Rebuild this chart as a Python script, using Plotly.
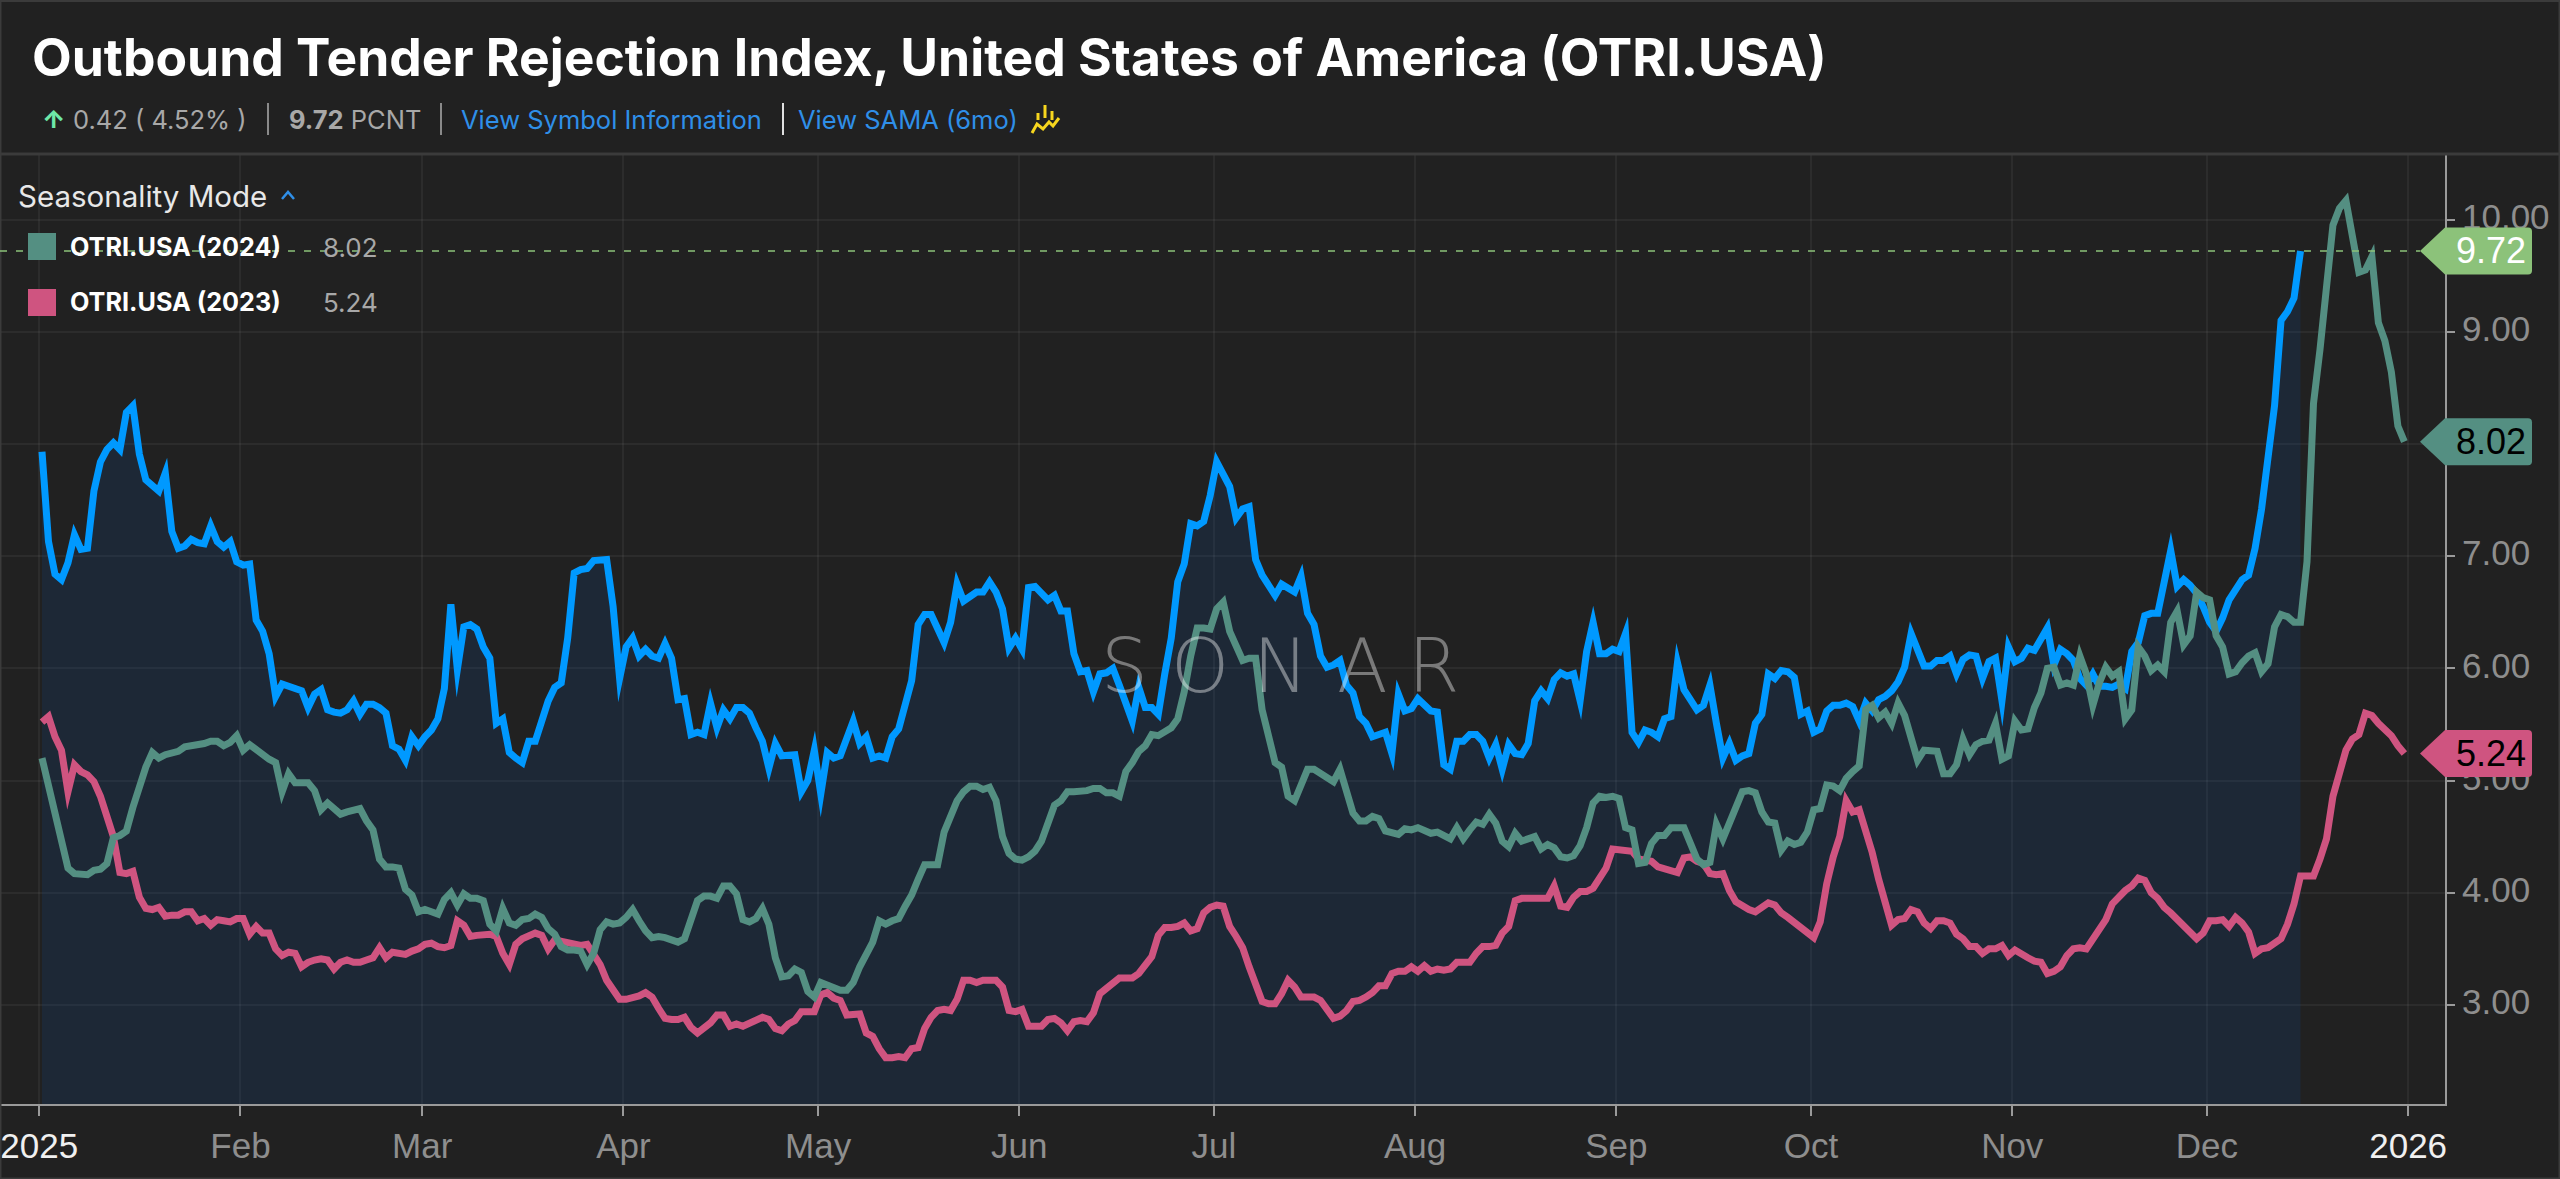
import pandas as pd
import plotly.graph_objects as go

# daily readings, one value per day starting 1 Jan
otri_2025 = [
    7.93, 7.13, 6.84, 6.79, 6.94, 7.19, 7.06, 7.07, 7.58, 7.84, 7.95, 8.01, 7.95, 8.28, 8.34, 7.91, 7.68, 7.63, 7.58, 7.74,
    7.22, 7.07, 7.09, 7.15, 7.12, 7.11, 7.27, 7.13, 7.08, 7.13, 6.95, 6.92, 6.93, 6.43, 6.33, 6.13, 5.75, 5.86, 5.84, 5.82,
    5.80, 5.65, 5.77, 5.81, 5.63, 5.61, 5.60, 5.63, 5.71, 5.59, 5.68, 5.68, 5.65, 5.60, 5.31, 5.28, 5.18, 5.39, 5.31, 5.39,
    5.45, 5.55, 5.82, 6.57, 5.99, 6.37, 6.39, 6.35, 6.19, 6.09, 5.51, 5.55, 5.25, 5.20, 5.16, 5.35, 5.35, 5.53, 5.71, 5.83,
    5.87, 6.27, 6.85, 6.88, 6.89, 6.96, 6.96, 6.97, 6.55, 5.91, 6.19, 6.27, 6.11, 6.17, 6.11, 6.09, 6.22, 6.09, 5.72, 5.73,
    5.41, 5.43, 5.41, 5.69, 5.47, 5.63, 5.55, 5.65, 5.65, 5.60, 5.47, 5.35, 5.11, 5.33, 5.22, 5.22, 5.23, 4.90, 5.00, 5.27,
    4.88, 5.25, 5.20, 5.22, 5.39, 5.53, 5.33, 5.39, 5.20, 5.22, 5.20, 5.39, 5.46, 5.65, 5.89, 6.39, 6.48, 6.48, 6.36, 6.23,
    6.41, 6.75, 6.60, 6.65, 6.68, 6.68, 6.77, 6.68, 6.53, 6.18, 6.27, 6.17, 6.72, 6.73, 6.67, 6.61, 6.65, 6.51, 6.51, 6.13,
    5.97, 5.98, 5.79, 5.95, 5.96, 6.00, 5.85, 5.71, 5.53, 5.83, 5.65, 5.65, 5.59, 5.95, 6.27, 6.77, 6.93, 7.29, 7.27, 7.31,
    7.54, 7.84, 7.72, 7.62, 7.34, 7.42, 7.44, 6.97, 6.83, 6.75, 6.65, 6.75, 6.72, 6.68, 6.82, 6.49, 6.39, 6.11, 6.01, 6.03,
    6.07, 5.85, 5.78, 5.57, 5.51, 5.39, 5.41, 5.43, 5.24, 5.77, 5.62, 5.64, 5.73, 5.68, 5.62, 5.61, 5.14, 5.10, 5.35, 5.35,
    5.41, 5.41, 5.35, 5.20, 5.32, 5.10, 5.32, 5.24, 5.23, 5.33, 5.71, 5.80, 5.73, 5.90, 5.96, 5.93, 5.95, 5.71, 6.15, 6.41,
    6.13, 6.13, 6.17, 6.15, 6.31, 5.43, 5.34, 5.45, 5.43, 5.39, 5.55, 5.57, 6.05, 5.81, 5.71, 5.63, 5.67, 5.85, 5.51, 5.20,
    5.33, 5.18, 5.22, 5.24, 5.51, 5.59, 5.95, 5.91, 5.98, 5.97, 5.92, 5.59, 5.62, 5.43, 5.46, 5.62, 5.67, 5.67, 5.69, 5.66,
    5.53, 5.69, 5.62, 5.72, 5.75, 5.80, 5.88, 6.01, 6.31, 6.15, 6.02, 6.02, 6.07, 6.07, 6.11, 5.95, 6.08, 6.12, 6.11, 5.91,
    6.06, 6.09, 5.71, 6.19, 6.06, 6.09, 6.18, 6.16, 6.27, 6.36, 6.03, 6.17, 6.13, 6.07, 5.91, 5.85, 5.95, 5.84, 5.84, 5.83,
    5.86, 5.82, 6.15, 6.23, 6.47, 6.49, 6.49, 6.75, 7.05, 6.73, 6.79, 6.74, 6.67, 6.55, 6.41, 6.33, 6.45, 6.61, 6.71, 6.79,
    6.83, 7.07, 7.42, 7.90, 8.34, 9.10, 9.18, 9.30, 9.72,
]
otri_2024 = [
    5.20, 4.94, 4.70, 4.48, 4.22, 4.17, 4.16, 4.16, 4.20, 4.21, 4.26, 4.49, 4.51, 4.55, 4.76, 4.96, 5.12, 5.25, 5.20, 5.23,
    5.25, 5.26, 5.30, 5.31, 5.31, 5.33, 5.35, 5.35, 5.31, 5.34, 5.40, 5.27, 5.32, 5.27, 5.24, 5.19, 5.16, 4.90, 5.06, 4.98,
    4.98, 4.98, 4.91, 4.74, 4.80, 4.75, 4.70, 4.72, 4.73, 4.75, 4.64, 4.56, 4.30, 4.23, 4.23, 4.22, 4.03, 3.98, 3.83, 3.85,
    3.83, 3.81, 3.94, 4.00, 3.89, 3.99, 3.95, 3.95, 3.93, 3.72, 3.66, 3.86, 3.73, 3.71, 3.76, 3.77, 3.81, 3.78, 3.68, 3.63,
    3.52, 3.49, 3.49, 3.48, 3.36, 3.46, 3.67, 3.74, 3.72, 3.73, 3.78, 3.85, 3.75, 3.66, 3.60, 3.61, 3.60, 3.58, 3.56, 3.59,
    3.74, 3.93, 3.97, 3.97, 3.95, 4.06, 4.06, 3.99, 3.76, 3.74, 3.77, 3.86, 3.72, 3.42, 3.25, 3.26, 3.32, 3.29, 3.12, 3.07,
    3.20, 3.18, 3.16, 3.13, 3.13, 3.20, 3.34, 3.44, 3.56, 3.75, 3.72, 3.75, 3.77, 3.88, 3.98, 4.12, 4.25, 4.25, 4.25, 4.54,
    4.68, 4.82, 4.90, 4.95, 4.95, 4.92, 4.94, 4.82, 4.50, 4.35, 4.30, 4.29, 4.32, 4.37, 4.46, 4.64, 4.78, 4.82, 4.90, 4.90,
    4.90, 4.91, 4.93, 4.93, 4.89, 4.89, 4.86, 5.08, 5.16, 5.26, 5.31, 5.41, 5.40, 5.43, 5.47, 5.55, 5.79, 6.11, 6.36, 6.36,
    6.35, 6.53, 6.59, 6.33, 6.19, 6.07, 6.09, 6.09, 5.63, 5.37, 5.16, 5.12, 4.86, 4.82, 4.96, 5.10, 5.10, 5.06, 5.03, 4.99,
    5.10, 4.90, 4.71, 4.64, 4.64, 4.68, 4.66, 4.55, 4.54, 4.52, 4.57, 4.56, 4.58, 4.55, 4.53, 4.54, 4.51, 4.48, 4.58, 4.48,
    4.56, 4.63, 4.61, 4.70, 4.62, 4.46, 4.41, 4.53, 4.46, 4.48, 4.50, 4.39, 4.43, 4.40, 4.32, 4.31, 4.33, 4.42, 4.58, 4.80,
    4.86, 4.85, 4.86, 4.84, 4.58, 4.56, 4.26, 4.27, 4.44, 4.51, 4.51, 4.58, 4.58, 4.58, 4.44, 4.30, 4.25, 4.27, 4.61, 4.48,
    4.62, 4.78, 4.90, 4.91, 4.89, 4.72, 4.63, 4.62, 4.38, 4.46, 4.43, 4.45, 4.54, 4.74, 4.75, 4.96, 4.95, 4.91, 5.02, 5.08,
    5.13, 5.63, 5.67, 5.56, 5.61, 5.51, 5.69, 5.58, 5.39, 5.18, 5.27, 5.27, 5.26, 5.06, 5.06, 5.14, 5.37, 5.23, 5.32, 5.35,
    5.36, 5.51, 5.19, 5.22, 5.53, 5.45, 5.46, 5.65, 5.78, 6.00, 6.01, 5.85, 5.87, 5.85, 6.11, 5.95, 5.67, 5.87, 6.01, 5.93,
    5.97, 5.55, 5.63, 6.19, 6.11, 5.98, 6.03, 5.97, 6.41, 6.51, 6.21, 6.29, 6.68, 6.63, 6.61, 6.29, 6.19, 5.95, 5.97, 6.05,
    6.11, 6.14, 5.97, 6.04, 6.37, 6.48, 6.46, 6.41, 6.41, 6.95, 8.36, 8.84, 9.43, 9.95, 10.10, 10.17, 9.85, 9.53, 9.55, 9.67,
    9.08, 8.92, 8.64, 8.16, 8.02,
]
otri_2023 = [
    5.52, 5.57, 5.39, 5.27, 4.90, 5.14, 5.08, 5.05, 4.99, 4.86, 4.68, 4.50, 4.18, 4.17, 4.19, 3.96, 3.86, 3.85, 3.87, 3.79,
    3.80, 3.80, 3.83, 3.83, 3.75, 3.77, 3.71, 3.76, 3.75, 3.74, 3.77, 3.77, 3.63, 3.70, 3.64, 3.64, 3.50, 3.44, 3.47, 3.46,
    3.34, 3.38, 3.40, 3.41, 3.40, 3.32, 3.38, 3.40, 3.38, 3.38, 3.40, 3.42, 3.51, 3.42, 3.47, 3.46, 3.45, 3.48, 3.50, 3.54,
    3.55, 3.52, 3.51, 3.53, 3.75, 3.71, 3.61, 3.62, 3.63, 3.63, 3.61, 3.46, 3.36, 3.54, 3.59, 3.61, 3.64, 3.62, 3.50, 3.58,
    3.57, 3.56, 3.54, 3.53, 3.54, 3.44, 3.36, 3.22, 3.13, 3.05, 3.05, 3.06, 3.08, 3.11, 3.07, 2.97, 2.88, 2.87, 2.87, 2.89,
    2.80, 2.75, 2.79, 2.84, 2.91, 2.91, 2.81, 2.83, 2.81, 2.84, 2.87, 2.89, 2.87, 2.79, 2.77, 2.83, 2.86, 2.94, 2.94, 2.94,
    3.09, 3.11, 3.06, 3.04, 2.91, 2.91, 2.92, 2.75, 2.72, 2.61, 2.53, 2.53, 2.54, 2.53, 2.61, 2.62, 2.79, 2.89, 2.95, 2.96,
    2.95, 3.05, 3.22, 3.22, 3.20, 3.22, 3.22, 3.22, 3.16, 2.95, 2.94, 2.96, 2.81, 2.81, 2.81, 2.87, 2.88, 2.84, 2.77, 2.85,
    2.86, 2.85, 2.93, 3.10, 3.15, 3.18, 3.24, 3.24, 3.24, 3.28, 3.35, 3.43, 3.62, 3.69, 3.69, 3.70, 3.73, 3.66, 3.68, 3.82,
    3.87, 3.89, 3.88, 3.70, 3.61, 3.51, 3.34, 3.18, 3.03, 3.01, 3.01, 3.10, 3.22, 3.16, 3.07, 3.07, 3.07, 3.04, 2.95, 2.88,
    2.90, 2.95, 3.03, 3.04, 3.07, 3.11, 3.17, 3.17, 3.28, 3.30, 3.30, 3.34, 3.30, 3.35, 3.30, 3.32, 3.31, 3.32, 3.38, 3.38,
    3.38, 3.46, 3.52, 3.52, 3.53, 3.64, 3.70, 3.93, 3.95, 3.95, 3.95, 3.95, 3.95, 4.06, 3.88, 3.87, 3.96, 4.01, 4.01, 4.04,
    4.12, 4.22, 4.39, 4.38, 4.37, 4.37, 4.30, 4.29, 4.28, 4.23, 4.21, 4.19, 4.18, 4.31, 4.32, 4.28, 4.26, 4.17, 4.16, 4.17,
    4.02, 3.92, 3.88, 3.85, 3.83, 3.87, 3.91, 3.89, 3.82, 3.78, 3.73, 3.69, 3.64, 3.60, 3.74, 4.08, 4.32, 4.50, 4.82, 4.72,
    4.74, 4.56, 4.36, 4.12, 3.92, 3.71, 3.76, 3.77, 3.85, 3.83, 3.73, 3.68, 3.75, 3.75, 3.73, 3.63, 3.59, 3.52, 3.52, 3.46,
    3.50, 3.50, 3.53, 3.44, 3.49, 3.45, 3.42, 3.39, 3.38, 3.28, 3.30, 3.34, 3.44, 3.50, 3.51, 3.50, 3.59, 3.68, 3.76, 3.90,
    3.97, 4.02, 4.06, 4.13, 4.11, 4.00, 3.95, 3.87, 3.82, 3.76, 3.70, 3.64, 3.59, 3.64, 3.75, 3.75, 3.76, 3.70, 3.78, 3.73,
    3.65, 3.46, 3.50, 3.51, 3.56, 3.59, 3.72, 3.90, 4.15, 4.15, 4.15, 4.30, 4.48, 4.86, 5.06, 5.27, 5.37, 5.41, 5.60, 5.58,
    5.51, 5.46, 5.40, 5.31, 5.24,
]
month_ticks = ['2025-01-01', '2025-02-01', '2025-03-01', '2025-04-01', '2025-05-01', '2025-06-01', '2025-07-01',
               '2025-08-01', '2025-09-01', '2025-10-01', '2025-11-01', '2025-12-01', '2026-01-01']
month_labels = ['<span style="color:#f0f0f0">2025</span>', 'Feb', 'Mar', 'Apr', 'May', 'Jun', 'Jul', 'Aug', 'Sep',
                'Oct', 'Nov', 'Dec', '<span style="color:#f0f0f0">2026</span>']
y_ticks = [3, 4, 5, 6, 7, 8, 9, 10]

BG = '#212121'
BLUE = '#0099ff'
GREEN = '#548f82'
PINK = '#cf5480'
LIME = '#8cc27a'
LINK = '#2f8fe8'
GREY = '#a8a8a8'

W, H = 2560, 1179
LEFT, RIGHT, TOP, BOTTOM = 0, 2445, 155, 1104


def px(x):
    return (x - LEFT) / (RIGHT - LEFT)


def py(y):
    return (BOTTOM - y) / (BOTTOM - TOP)


def label(text, x, y, size=25.5, color=GREY, weight=400, family='Inter', anchor='left'):
    return dict(text=text, xref='paper', yref='paper', x=px(x), y=py(y), xanchor=anchor, yanchor='middle',
                showarrow=False, font=dict(family=family, size=size, color=color, weight=weight))


def days(values):
    return pd.date_range('2025-01-01 10:00', periods=len(values), freq='D')


fig = go.Figure()
fig.add_trace(go.Scatter(x=days(otri_2025), y=otri_2025, mode='lines', line=dict(color=BLUE, width=7),
                         fill='tozeroy', fillcolor='rgba(0,92,208,0.12)'))
fig.add_trace(go.Scatter(x=days(otri_2023), y=otri_2023, mode='lines', line=dict(color=PINK, width=7)))
fig.add_trace(go.Scatter(x=days(otri_2024), y=otri_2024, mode='lines', line=dict(color=GREEN, width=7)))

shapes = []
annotations = [
    label('Outbound Tender Rejection Index, United States of America (OTRI.USA)', 30, 57, size=51.6, color='#ffffff', weight=700),
    label('↑', 40, 119, size=25, color='#6ee7a8', weight=800),
    label('0.42 ( 4.52% )', 71, 119),
    label('<b>9.72</b> PCNT', 287, 119),
    label('View Symbol Information', 459, 119, color=LINK),
    label('View SAMA (6mo)', 796, 119, color=LINK),
    label('Seasonality Mode', 16, 196, size=29.5, color='#e8e8e8'),
    label('OTRI.USA (2024)', 68, 247, size=25.2, color='#ffffff', weight=700),
    label(f'{otri_2024[-1]:.2f}', 321, 247, size=26),
    label('OTRI.USA (2023)', 68, 302, size=25.2, color='#ffffff', weight=700),
    label(f'{otri_2023[-1]:.2f}', 321, 302, size=26),
]

# watermark letters are spaced out by hand
for ch, cx in zip('SONAR', [1124, 1200, 1280, 1362, 1433]):
    annotations.append(label(ch, cx, 666, size=74, color='rgba(255,255,255,0.4)', weight=200,
                             family='DejaVu Sans', anchor='center'))

# header separators
for x, colour in [(268, '#8a8a8a'), (441, '#8a8a8a'), (783, '#e0e0e0')]:
    shapes.append(dict(type='line', xref='paper', yref='paper', x0=px(x), x1=px(x), y0=py(103), y1=py(135),
                       line=dict(color=colour, width=2)))

# frame and header rule
shapes.append(dict(type='line', xref='paper', yref='paper', x0=0, x1=W / RIGHT, y0=py(154), y1=py(154),
                   line=dict(color='#3b3b3b', width=3)))
shapes.append(dict(type='rect', xref='paper', yref='paper', x0=px(0.5), x1=px(W - 0.5), y0=py(H - 0.5), y1=py(1),
                   line=dict(color='#3b3b3b', width=2)))

# caret next to Seasonality Mode
shapes.append(dict(type='path', xref='paper', yref='paper', xsizemode='pixel', ysizemode='pixel',
                   xanchor=px(288), yanchor=py(196), path='M -6 -3 L 0 4 L 6 -3', line=dict(color=LINK, width=2.5)))

# SAMA icon
shapes.append(dict(type='path', xref='paper', yref='paper', xsizemode='pixel', ysizemode='pixel',
                   xanchor=px(1046), yanchor=py(119),
                   path='M -8 -1 L -8 6 M -1 1 L -1 14 M 6 -1 L 6 8 M -14 -14 L -9 -5 L -3 -10 L 3 -3 L 7 -7 L 13 1',
                   line=dict(color='#f7d61e', width=3)))

# last-value line
shapes.append(dict(type='line', xref='paper', yref='y', x0=0, x1=px(2420), y0=otri_2025[-1], y1=otri_2025[-1],
                   line=dict(color=LIME, width=1.5, dash='7px,9px')))

# legend squares, over the last-value line
for y0, y1, colour in [(233, 260, GREEN), (289, 316, PINK)]:
    shapes.append(dict(type='rect', xref='paper', yref='paper', x0=px(28), x1=px(56), y0=py(y0), y1=py(y1),
                       fillcolor=colour, line=dict(width=0)))

# last-value tags on the axis
for value, colour, text_colour in [(otri_2025[-1], LIME, '#ffffff'), (otri_2024[-1], GREEN, '#000000'),
                                   (otri_2023[-1], PINK, '#000000')]:
    shapes.append(dict(type='path', xref='paper', yref='y', xsizemode='pixel', ysizemode='pixel', xanchor=1,
                       yanchor=value, fillcolor=colour, line=dict(width=0),
                       path='M -25 0 L 0 23.5 L 83 23.5 Q 87 23.5 87 19.5 L 87 -19.5 Q 87 -23.5 83 -23.5 L 0 -23.5 Z'))
    annotations.append(dict(text=f'{value:.2f}', xref='paper', yref='y', x=px(2491), y=value, xanchor='center',
                            yanchor='middle', showarrow=False,
                            font=dict(family='Liberation Sans', size=36, color=text_colour)))

fig.update_layout(
    width=W, height=H, autosize=False, showlegend=False,
    margin=dict(l=LEFT, r=W - RIGHT, t=TOP, b=H - BOTTOM, pad=0),
    paper_bgcolor=BG, plot_bgcolor=BG,
    shapes=shapes, annotations=annotations,
    xaxis=dict(
        type='date',
        range=[pd.Timestamp('2025-01-01') - pd.Timedelta(days=6.055), pd.Timestamp('2025-01-01') + pd.Timedelta(days=370.68)],
        tickvals=month_ticks, ticktext=month_labels, ticks='outside', ticklen=10, tickwidth=2, tickcolor='#9a9a9a',
        tickfont=dict(family='Liberation Sans', size=35, color='#8e8e8e'),
        showgrid=True, gridcolor='rgba(255,255,255,0.05)', gridwidth=2, zeroline=False,
        showline=True, linecolor='#9a9a9a', linewidth=2,
    ),
    yaxis=dict(
        side='right', range=[2.117, 10.575], tickvals=y_ticks, tickformat='.2f',
        ticks='outside', ticklen=8, tickwidth=2, tickcolor='#9a9a9a', ticklabelshift=-3,
        tickfont=dict(family='Liberation Sans', size=35, color='#8e8e8e'),
        showgrid=True, gridcolor='rgba(255,255,255,0.05)', gridwidth=2, zeroline=False,
        showline=True, linecolor='#9a9a9a', linewidth=2,
    ),
)

fig.write_html("out.html", config=dict(displayModeBar=False),
               post_script="document.body.style.margin='0';"
               "document.querySelectorAll('.js-line').forEach(function(p){p.style.strokeMiterlimit='10';});")
